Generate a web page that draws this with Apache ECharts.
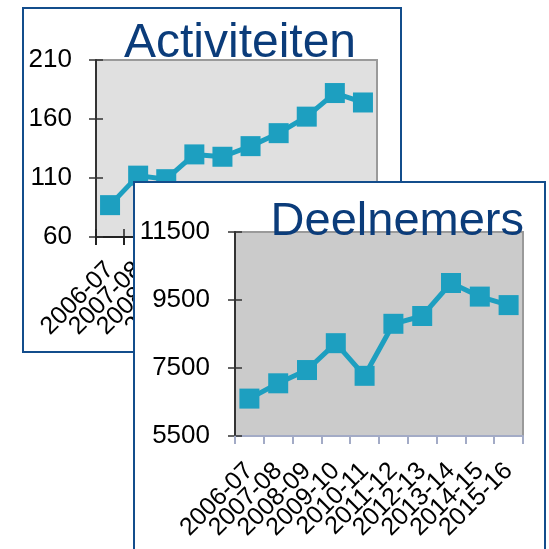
<!DOCTYPE html>
<html>
<head>
<meta charset="utf-8">
<script src="https://cdn.jsdelivr.net/npm/echarts@6/dist/echarts.min.js"></script>
<style>
html, body { margin: 0; padding: 0; width: 549px; height: 549px; overflow: hidden; background: #fff; }
.panel { position: absolute; border: 2px solid #134d8c; background: #fff; }
#actChart { left: 22px; top: 7px; width: 376px; height: 342px; }
#deelChart { left: 133px; top: 181px; width: 409px; height: 400px; }
</style>
</head>
<body>
<div id="actChart" class="panel"></div>
<div id="deelChart" class="panel"></div>
<script>
// seizoenen
var categories = ['2006-07', '2007-08', '2008-09', '2009-10', '2010-11', '2011-12', '2012-13', '2013-14', '2014-15', '2015-16'];
// aantal activiteiten per seizoen
var activiteiten = [87, 112, 109, 130, 128, 137, 148, 162, 182, 174];
// aantal deelnemers per seizoen
var deelnemers = [6600, 7050, 7440, 8230, 7270, 8800, 9030, 10000, 9600, 9350];
// labels op de y-as
var actTicks = [60, 110, 160, 210];
var deelTicks = [5500, 7500, 9500, 11500];

var FONT = '"Liberation Sans", Arial, sans-serif';
var LINE_COLOR = '#1d9fc0';

function makeOption(cfg) {
    return {
        animation: false,
        textStyle: { fontFamily: FONT },
        graphic: [{
            type: 'text',
            z: 100,
            style: {
                text: cfg.title,
                x: cfg.titleX,
                y: cfg.titleY,
                align: cfg.titleAlign,
                verticalAlign: 'middle',
                fill: '#0b3c7a',
                font: cfg.titleSize + 'px ' + FONT
            }
        }],
        grid: {
            left: cfg.grid[0], top: cfg.grid[1], width: cfg.grid[2], height: cfg.grid[3],
            show: true,
            backgroundColor: cfg.plotBg,
            borderColor: '#9a9a9a',
            borderWidth: 2
        },
        xAxis: [{
            type: 'category',
            data: categories,
            axisLine: { lineStyle: { color: cfg.xAxisColor, width: 2 } },
            axisTick: { show: true, interval: 0, length: 8, lineStyle: { color: cfg.xAxisColor, width: 2 } },
            axisLabel: {
                interval: 0, rotate: 45, margin: cfg.xMargin,
                color: '#000', fontSize: 25, fontFamily: FONT
            },
            splitLine: { show: false }
        }, {
            // binnenkant van de kruisende streepjes
            type: 'category',
            data: categories,
            position: 'bottom',
            show: cfg.crossX,
            axisLine: { show: false },
            axisTick: { show: true, inside: true, interval: 0, length: 8, lineStyle: { color: cfg.xAxisColor, width: 1.5 } },
            axisLabel: { show: false },
            splitLine: { show: false }
        }],
        yAxis: [{
            type: 'value',
            min: cfg.ticks[0],
            max: cfg.ticks[cfg.ticks.length - 1],
            position: 'left',
            axisLine: { show: true, lineStyle: { color: '#333', width: 2 } },
            axisTick: { show: true, length: 7, customValues: cfg.ticks, lineStyle: { color: '#333', width: 1.5 } },
            axisLabel: {
                customValues: cfg.ticks, margin: cfg.labelMargin,
                color: '#000', fontSize: 26, fontFamily: FONT,
                formatter: function (v) { return String(v); }
            },
            splitLine: { show: false }
        }, {
            type: 'value',
            min: cfg.ticks[0],
            max: cfg.ticks[cfg.ticks.length - 1],
            position: 'left',
            axisLine: { show: false },
            axisTick: { show: true, inside: true, length: 7, customValues: cfg.ticks, lineStyle: { color: '#333', width: 1.5 } },
            axisLabel: { show: false },
            splitLine: { show: false }
        }],
        series: [{
            type: 'line',
            data: cfg.data,
            symbol: 'rect',
            symbolSize: 20,
            clip: false,
            lineStyle: { color: LINE_COLOR, width: 5 },
            itemStyle: { color: LINE_COLOR }
        }]
    };
}

var actChart = echarts.init(document.getElementById('actChart'));
actChart.setOption(makeOption({
    title: 'Activiteiten', titleX: 216, titleY: 35, titleAlign: 'center', titleSize: 48,
    grid: [72, 51, 281, 177],
    plotBg: '#e0e0e0',
    xAxisColor: '#222',
    crossX: true,
    ticks: actTicks,
    labelMargin: 24,
    xMargin: 29,
    data: activiteiten
}));

var deelChart = echarts.init(document.getElementById('deelChart'));
deelChart.setOption(makeOption({
    title: 'Deelnemers', titleX: 389, titleY: 39, titleAlign: 'right', titleSize: 47,
    grid: [100, 49, 288, 204],
    plotBg: '#cbcbcb',
    xAxisColor: '#a3abc6',
    crossX: false,
    ticks: deelTicks,
    labelMargin: 25,
    xMargin: 31,
    data: deelnemers
}));
</script>
</body>
</html>
